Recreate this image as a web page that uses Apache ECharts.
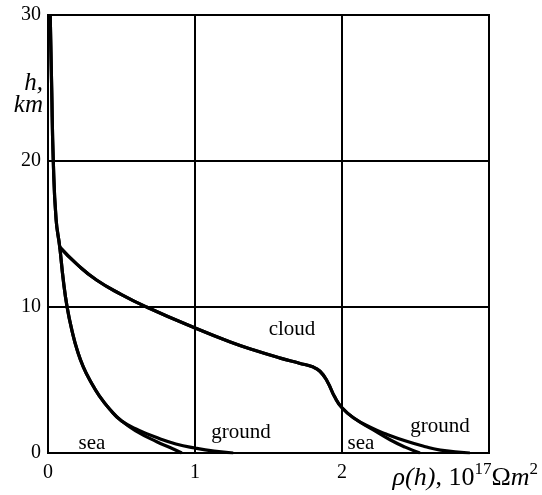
<!DOCTYPE html>
<html>
<head>
<meta charset="utf-8">
<script src="https://cdn.jsdelivr.net/npm/echarts@6/dist/echarts.min.js"></script>
<style>
  html, body { margin: 0; padding: 0; background: #fff; }
  #main { width: 542px; height: 495px; }
</style>
</head>
<body>
<div id="main"></div>
<script>
// x = rho(h) in 1e17 Ohm m^2, y = h in km
const xTicks = [0, 1, 2];
const yTicks = [0, 10, 20, 30];

// shared upper part of the two left curves
const leftTrunk = [[0.015, 30], [0.025, 25], [0.036, 20], [0.055, 16], [0.08, 14.1], [0.104, 11.85],
  [0.13, 10], [0.165, 8.3], [0.2, 7], [0.24, 5.9], [0.29, 4.9], [0.35, 3.9], [0.42, 3.0], [0.5, 2.2]];
const leftSea = [[0.6, 1.5], [0.74, 0.77], [0.83, 0.38], [0.91, 0]];
const leftGround = [[0.62, 1.55], [0.76, 0.98], [0.87, 0.62], [1.0, 0.34], [1.13, 0.13], [1.26, 0]];

// cloud curve, splits into sea / ground near rho = 2.08
const cloudTrunk = [[0.08, 14.1], [0.2, 12.9], [0.33, 11.85], [0.5, 10.85], [0.67, 10.0], [1.0, 8.56],
  [1.24, 7.6], [1.4, 7.05], [1.58, 6.5], [1.71, 6.15], [1.80, 5.9], [1.85, 5.6], [1.9, 4.9],
  [1.95, 3.85], [2.0, 3.1], [2.08, 2.4]];
const cloudSea = [[2.21, 1.6], [2.33, 0.89], [2.43, 0.4], [2.53, 0]];
const cloudGround = [[2.21, 1.68], [2.30, 1.3], [2.44, 0.8], [2.56, 0.45], [2.67, 0.2], [2.87, 0]];

const curves = [
  leftTrunk.concat(leftSea),
  leftTrunk.concat(leftGround),
  cloudTrunk.concat(cloudSea),
  cloudTrunk.concat(cloudGround)
];

const serif = "'Liberation Serif', 'DejaVu Serif', serif";
const myChart = echarts.init(document.getElementById('main'));

const txt = (x, y, text, extra) => ({
  type: 'text', x: x, y: y, silent: true,
  style: Object.assign({ text: text, font: '21px ' + serif, fill: '#000',
    align: 'center', verticalAlign: 'middle' }, extra || {})
});

const option = {
  animation: false,
  grid: { left: 48, right: 53, top: 15, bottom: 42, show: true, borderColor: '#000', borderWidth: 2 },
  xAxis: {
    type: 'value', min: 0, max: 3, interval: 1,
    axisLine: { show: true, lineStyle: { color: '#000', width: 2 } },
    axisTick: { show: false },
    splitLine: { show: true, lineStyle: { color: '#000', width: 2 } },
    axisLabel: {
      color: '#000', fontSize: 20, fontFamily: serif, margin: 10,
      formatter: v => (xTicks.indexOf(v) >= 0 ? String(v) : '')
    }
  },
  yAxis: {
    type: 'value', min: 0, max: 30, interval: 10,
    axisLine: { show: true, lineStyle: { color: '#000', width: 2 } },
    axisTick: { show: false },
    splitLine: { show: true, lineStyle: { color: '#000', width: 2 } },
    axisLabel: {
      color: '#000', fontSize: 20, fontFamily: serif, margin: 7,
      formatter: v => (yTicks.indexOf(v) >= 0 ? String(v) : '')
    }
  },
  series: curves.map(d => ({
    type: 'line', data: d, smooth: 0.5, symbol: 'none',
    lineStyle: { color: '#000', width: 3.2 }
  })),
  graphic: [
    txt(43, 83, 'h,', { align: 'right', font: 'italic 25px ' + serif }),
    txt(43, 105, 'km', { align: 'right', font: 'italic 25px ' + serif }),
    txt(92, 443, 'sea'),
    txt(241, 432, 'ground'),
    txt(292, 329, 'cloud'),
    txt(361, 443, 'sea'),
    txt(440, 426, 'ground'),
    {
      type: 'text', x: 538, y: 491, silent: true,
      style: {
        text: '{i|ρ(h)}{n|, 10}{s|17}{n|Ω}{i|m}{s|2}',
        align: 'right', verticalAlign: 'bottom',
        rich: {
          i: { font: 'italic 26px ' + serif, fill: '#000', lineHeight: 30, verticalAlign: 'bottom' },
          n: { font: '26px ' + serif, fill: '#000', lineHeight: 30, verticalAlign: 'bottom' },
          s: { font: '17px ' + serif, fill: '#000', lineHeight: 30, verticalAlign: 'top' }
        }
      }
    }
  ]
};
myChart.setOption(option);
</script>
</body>
</html>
